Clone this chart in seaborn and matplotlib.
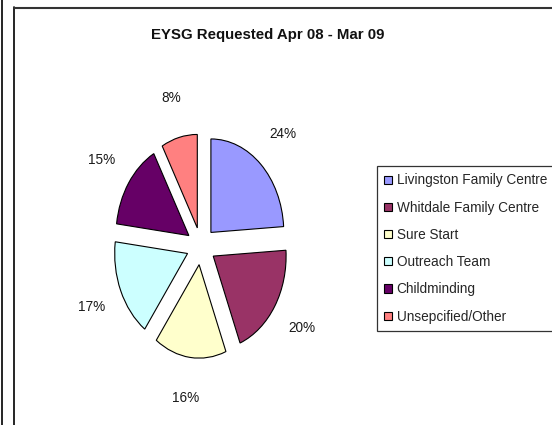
import matplotlib
matplotlib.use('Agg')
import matplotlib.pyplot as plt
import seaborn as sns
from matplotlib.lines import Line2D

# data
categories = ['Livingston Family Centre', 'Whitdale Family Centre', 'Sure Start',
              'Outreach Team', 'Childminding', 'Unsepcified/Other']
shares = [24, 20, 16, 17, 15, 8]
colours = ['#9999FF', '#993366', '#FFFFCC', '#CCFFFF', '#660066', '#FF8080']
title = 'EYSG Requested Apr 08 - Mar 09'

sns.set_theme(style='white')
plt.rcParams['font.family'] = ['Liberation Sans', 'DejaVu Sans']

fig = plt.figure(figsize=(5.52, 4.25), dpi=100)
ax = fig.add_axes([0.199, 0.146, 0.33, 0.55])

wedges, texts, autotexts = ax.pie(
    shares, colors=colours, startangle=90, counterclock=False,
    explode=[0.2] * len(shares), autopct='%1.0f%%', pctdistance=1.44,
    wedgeprops=dict(edgecolor='black', linewidth=0.8),
    textprops=dict(fontsize=9.8, color='#1a1a1a'))
ax.set_aspect('auto')
ax.set_xlim(-1.25, 1.25)
ax.set_ylim(-1.25, 1.25)

fig.text(268 / 552, 1 - 35 / 425, title, ha='center', va='center',
         fontsize=10.8, fontweight='bold', color='#111111')

leg = fig.legend(wedges, categories, loc='upper left',
                 bbox_to_anchor=(377 / 552, 1 - 166 / 425),
                 frameon=True, fancybox=False, fontsize=9.8,
                 handlelength=0.55, handleheight=0.55, handletextpad=0.35,
                 labelspacing=0.97, borderpad=0.55, borderaxespad=0)
leg.get_frame().set_edgecolor('black')
leg.get_frame().set_linewidth(0.9)
for h in leg.legend_handles:
    h.set_linewidth(0.8)

# chart frame lines
fig.add_artist(Line2D([1.5 / 552, 1.5 / 552], [0, 1], color='black', lw=1.2))
fig.add_artist(Line2D([13.5 / 552, 13.5 / 552], [0, 1 - 7 / 425], color='black', lw=1.2))
fig.add_artist(Line2D([13.5 / 552, 1], [1 - 7.5 / 425, 1 - 7.5 / 425], color='#333333', lw=1.5))

fig.savefig('out.png', dpi=100)
